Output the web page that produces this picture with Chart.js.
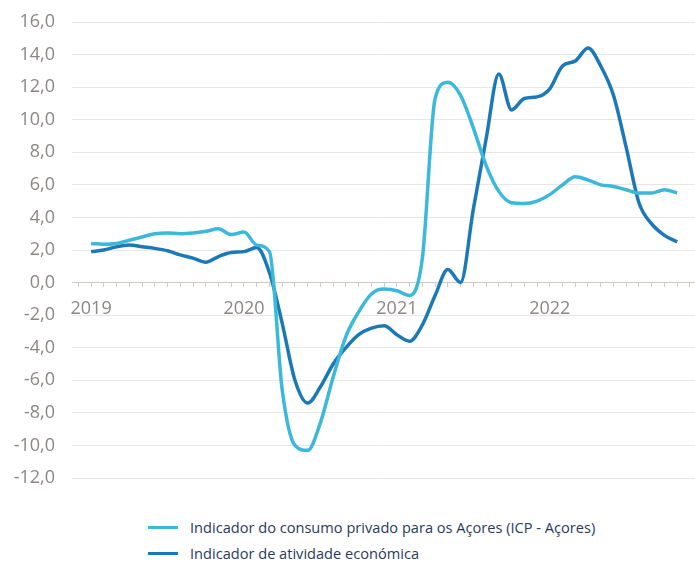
<!DOCTYPE html>
<html>
<head>
<meta charset="utf-8">
<script src="https://cdn.jsdelivr.net/npm/chart.js@4.4.0/dist/chart.umd.min.js"></script>
<style>
  html, body { margin: 0; padding: 0; background: #fff; }
  #wrap { position: relative; width: 695px; height: 561px; }
  #c { position: absolute; left: 0; top: 0; }
  #legend { position: absolute; left: 148px; top: 514px; font-family: "Open Sans", sans-serif; font-size: 14.6px; color: #2b3a5a; }
  .item { display: flex; align-items: center; height: 26px; }
  .swatch { width: 30px; height: 3px; margin-right: 12px; }
</style>
</head>
<body>
<div id="wrap">
  <canvas id="c" width="695" height="500"></canvas>
  <div id="legend"></div>
</div>
<script>
// monthly, Jan 2019 .. Nov 2022
const years = ['2019', '2020', '2021', '2022'];
const consumo = [
  2.4, 2.35, 2.4, 2.6, 2.8, 3.0, 3.05, 3.0, 3.05, 3.15, 3.3, 2.95,
  3.1, 2.3, 1.9, -6.6, -10.0, -10.3, -8.6, -5.8, -3.3, -1.8, -0.7, -0.4,
  -0.5, -0.8, 1.5, 11.3, 12.3, 11.5, 9.5, 7.2, 5.6, 4.9, 4.85, 5.0,
  5.4, 6.0, 6.5, 6.3, 6.0, 5.9, 5.7, 5.5, 5.5, 5.7, 5.5
];
const atividade = [
  1.9, 2.0, 2.2, 2.3, 2.2, 2.1, 1.95, 1.7, 1.5, 1.25, 1.6, 1.85,
  1.9, 2.15, 0.6, -2.5, -6.0, -7.4, -6.4, -5.0, -4.0, -3.2, -2.8, -2.65,
  -3.2, -3.6, -2.6, -0.8, 0.8, 0.0, 4.5, 8.8, 12.8, 10.6, 11.3, 11.4,
  11.9, 13.3, 13.6, 14.4, 13.3, 11.5, 8.3, 4.9, 3.6, 2.9, 2.5
];
const seriesNames = [
  'Indicador do consumo privado para os Açores (ICP - Açores)',
  'Indicador de atividade económica'
];
const colors = ['#3bb8da', '#1a79b6'];

const toPts = arr => arr.map((v, i) => ({ x: i, y: v }));

const chart = new Chart(document.getElementById('c'), {
  type: 'line',
  data: {
    datasets: [
      { label: seriesNames[0], data: toPts(consumo), borderColor: colors[0], borderWidth: 3.5, pointRadius: 0, cubicInterpolationMode: 'monotone', fill: false },
      { label: seriesNames[1], data: toPts(atividade), borderColor: colors[1], borderWidth: 3.5, pointRadius: 0, cubicInterpolationMode: 'monotone', fill: false },
    ],
  },
  options: {
    responsive: false,
    animation: false,
    layout: { padding: { top: 22, bottom: 22, left: 0, right: 0 } },
    plugins: { legend: { display: false }, tooltip: { enabled: false } },
    scales: {
      x: {
        type: 'linear',
        position: { y: 0 },
        min: -1.5,
        max: 47.4,
        afterFit: s => { s.paddingLeft = 0; s.paddingRight = 0; },
        ticks: {
          stepSize: 1,
          includeBounds: false,
          autoSkip: false,
          maxRotation: 0,
          padding: 12,
          color: '#8c8684',
          font: { family: 'Open Sans', size: 18 },
          callback: v => (v >= 0 && v % 12 === 0) ? years[v / 12] : '',
        },
        grid: { drawOnChartArea: false, drawTicks: true, tickLength: 4, color: '#cfc9c6' },
        border: { color: '#cfc9c6', width: 1 },
      },
      y: {
        min: -12,
        max: 16,
        afterFit: s => { s.width = 72; s.paddingTop = 0; s.paddingBottom = 0; },
        ticks: {
          stepSize: 2,
          padding: 17,
          color: '#8c8684',
          font: { family: 'Open Sans', size: 18 },
          callback: v => v.toFixed(1).replace('.', ','),
        },
        grid: { color: '#e9e7e6', drawTicks: false },
        border: { display: false },
      },
    },
  },
});

const legend = document.getElementById('legend');
chart.data.datasets.forEach(ds => {
  const row = document.createElement('div');
  row.className = 'item';
  const sw = document.createElement('span');
  sw.className = 'swatch';
  sw.style.background = ds.borderColor;
  const txt = document.createElement('span');
  txt.textContent = ds.label;
  row.appendChild(sw);
  row.appendChild(txt);
  legend.appendChild(row);
});
</script>
</body>
</html>
